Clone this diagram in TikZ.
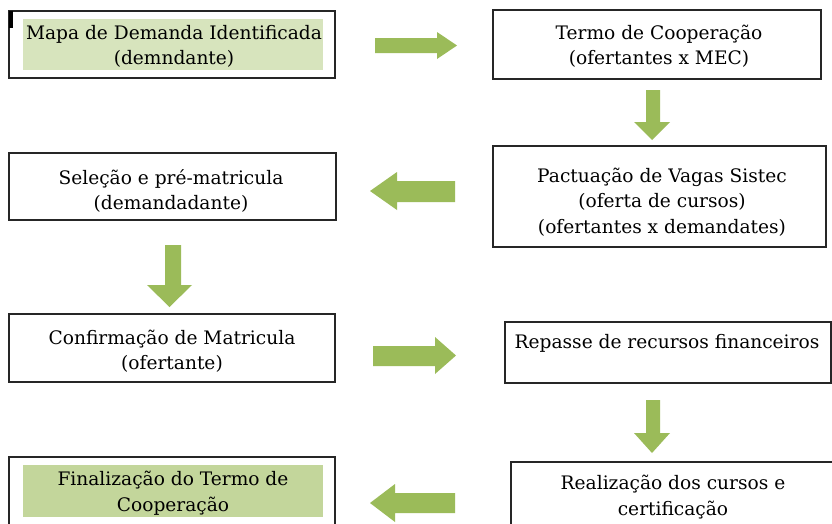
\documentclass[tikz,border=0pt]{standalone}
\usepackage{fontspec}
\setmainfont{DejaVu Serif}
\definecolor{arrowgreen}{HTML}{9BBB59}
\definecolor{palegreen}{HTML}{D7E4BD}
\definecolor{midgreen}{HTML}{C3D69B}
\tikzset{
  boxframe/.style={draw=black!85, line width=1.2pt, inner sep=0pt},
  hilite/.style={fill=#1, draw=none, inner sep=0pt},
  label/.style={align=center, inner sep=0pt, font=\fontsize{18.6}{25.5}\selectfont},
  blockarrow/.style={fill=arrowgreen, draw=none}
}
\begin{document}
\begin{tikzpicture}[x=1pt,y=-1pt]
\clip (0,0) rectangle (832,523);
\fill[white] (0,0) rectangle (832,523);
% boxes
\node[boxframe, minimum width=326pt, minimum height=67pt] (b1) at (172,44.5) {};
\node[hilite=palegreen, minimum width=300pt, minimum height=51pt] (h1) at (173,44.5) {};
\fill[black] (9,11) rectangle (13,28);
\node[label] (t1) at (174,46.5) {Mapa de Demanda Identificada\\(demndante)};

\node[boxframe, minimum width=328pt, minimum height=69pt] (b2) at (657,44.5) {};
\node[label] (t2) at (659,46) {Termo de Cooperação\\(ofertantes x MEC)};

\node[boxframe, minimum width=333pt, minimum height=101pt] (b3) at (659.5,196.5) {};
\node[label] (t3) at (662,202) {Pactuação de Vagas Sistec\\(oferta de cursos)\\(ofertantes x demandates)};

\node[boxframe, minimum width=327pt, minimum height=67pt] (b4) at (172.5,186.5) {};
\node[label] (t4) at (171,191) {Seleção e pré-matricula\\(demandadante)};

\node[boxframe, minimum width=326pt, minimum height=68pt] (b5) at (172,348) {};
\node[label] (t5) at (172,351) {Confirmação de Matricula\\(ofertante)};

\node[boxframe, minimum width=326pt, minimum height=61pt] (b6) at (668,352.5) {};
\node[label] (t6) at (667,343) {Repasse de recursos financeiros};

\node[boxframe, minimum width=326pt, minimum height=80pt] (b7) at (172,497) {};
\node[hilite=midgreen, minimum width=300pt, minimum height=52pt] (h7) at (173,491) {};
\node[label] (t7) at (173,493) {Finalização do Termo de\\Cooperação};

\node[boxframe, minimum width=330pt, minimum height=80pt] (b8) at (676,502) {};
\node[label] (t8) at (673,497) {Realização dos cursos e\\certificação};

% block arrows
\fill[blockarrow] (375,38) -- (437,38) -- (437,32) -- (457,45.5) -- (437,59) -- (437,53) -- (375,53) -- cycle;
\fill[blockarrow] (646,90) -- (660,90) -- (660,122) -- (670,122) -- (652,140) -- (634,122) -- (646,122) -- cycle;
\fill[blockarrow] (455,181) -- (397,181) -- (397,172) -- (370,191) -- (397,210) -- (397,202) -- (455,202) -- cycle;
\fill[blockarrow] (165,245) -- (181,245) -- (181,285) -- (192,285) -- (169.5,307) -- (147,285) -- (165,285) -- cycle;
\fill[blockarrow] (373,346) -- (435,346) -- (435,337) -- (456,355.5) -- (435,374) -- (435,366) -- (373,366) -- cycle;
\fill[blockarrow] (646,400) -- (660,400) -- (660,433) -- (670,433) -- (652,453) -- (634,433) -- (646,433) -- cycle;
\fill[blockarrow] (455,493) -- (395,493) -- (395,484) -- (370,503) -- (395,522) -- (395,513) -- (455,513) -- cycle;
\end{tikzpicture}
\end{document}
